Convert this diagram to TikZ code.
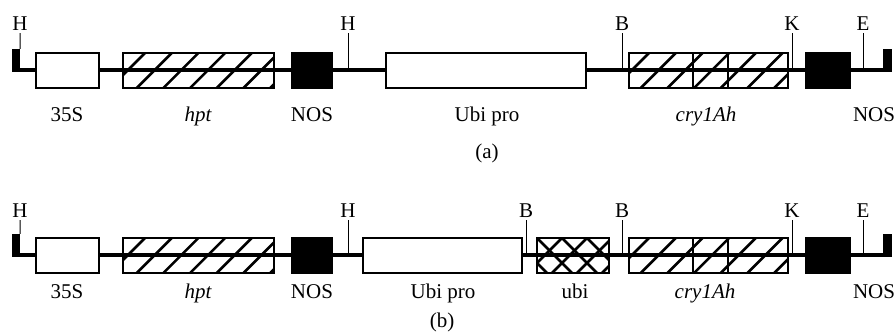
\documentclass[tikz,border=0pt]{standalone}
\usepackage{fontspec}
\setmainfont{Liberation Serif}
\tikzset{
  backbone/.style={line width=3.5pt},
  tickline/.style={line width=1pt},
  wbox/.style={draw, fill=white, line width=1.2pt, inner sep=0pt, minimum height=35pt},
  bbox/.style={draw, fill=black, line width=1.2pt, inner sep=0pt, minimum height=35pt},
  hbox/.style={draw, line width=1.2pt, inner sep=0pt, minimum height=35pt},
  flagbox/.style={fill=black, inner sep=0pt, minimum width=8pt, minimum height=23pt},
  hatchline/.style={line width=2.6pt},
  divline/.style={line width=1.1pt},
  lab/.style={anchor=base, inner sep=0pt, font=\fontsize{21}{25}\selectfont},
}
\newcommand\hatchfill[4]{%
  \begin{scope}
    \clip (#1.south west) rectangle (#1.north east);
    \foreach \k in {-2,...,#4}{%
      \pgfmathsetmacro\xx{#2+26.7*\k}
      \draw[hatchline] (\xx-22,#3+22) -- (\xx+22,#3-22);
    }
  \end{scope}}
\newcommand\crossfill[3]{%
  \begin{scope}
    \clip (#1.south west) rectangle (#1.north east);
    \foreach \k in {-2,...,5}{%
      \pgfmathsetmacro\xx{#2+25*\k}
      \draw[hatchline] (\xx-40,#3-40) -- (\xx+40,#3+40);
      \draw[hatchline] (\xx-40,#3+40) -- (\xx+40,#3-40);
    }
  \end{scope}}
\begin{document}
\begin{tikzpicture}[x=1pt,y=-1pt]
\useasboundingbox (0,0) rectangle (896,333);

% ================= panel (a) =================
\coordinate (La) at (12,70);
\coordinate (Ra) at (892,70);
\draw[backbone] (La) -- (Ra);
\node[flagbox] (FLa) at (16,60.5) {};
\node[flagbox, minimum width=9pt] (FRa) at (887.5,60.5) {};

\node[wbox, minimum width=63pt]  (s35a) at (67.5,70.5) {};
\node[hbox, minimum width=151pt] (hpta) at (198.5,70.5) {};
\node[bbox, minimum width=40pt]  (nos1a) at (312,70.5) {};
\node[wbox, minimum width=200pt] (ubipa) at (486,70.5) {};
\node[hbox, minimum width=159pt] (crya) at (708.5,70.5) {};
\node[bbox, minimum width=44pt]  (nos2a) at (828,70.5) {};

\hatchfill{hpta}{128}{70}{7}
\hatchfill{crya}{632}{70}{7}
\draw[divline] (crya.north west -| 693,0) -- (crya.south west -| 693,0);
\draw[divline] (crya.north west -| 728,0) -- (crya.south west -| 728,0);

\node[lab] (Ha1) at (20,30) {H};
\node[lab] (Ha2) at (348,30) {H};
\node[lab] (Ba1) at (622,30) {B};
\node[lab] (Ka1) at (792,30) {K};
\node[lab] (Ea1) at (863,30) {E};
\draw[tickline] ([yshift=-3pt]Ha1.south) -- (FLa.north east);
\draw[tickline] ([yshift=-3pt]Ha2.south) -- (Ha2.south |- La);
\draw[tickline] ([yshift=-3pt]Ba1.south) -- (Ba1.south |- La);
\draw[tickline] ([yshift=-3pt]Ka1.south) -- (Ka1.south |- La);
\draw[tickline] ([yshift=-3pt]Ea1.south) -- (Ea1.south |- La);

\node[lab] (t35a) at (67,121) {35S};
\node[lab] (thpta) at (198,121) {\itshape hpt};
\node[lab] (tnos1a) at (312,121) {NOS};
\node[lab] (tubipa) at (487,121) {Ubi pro};
\node[lab] (tcrya) at (706,121) {\itshape cry1Ah};
\node[lab] (tnos2a) at (874,121) {NOS};
\node[lab] (capa) at (487,158) {(a)};

% ================= panel (b) =================
\coordinate (Lb) at (12,255);
\coordinate (Rb) at (892,255);
\draw[backbone] (Lb) -- (Rb);
\node[flagbox] (FLb) at (16,245.5) {};
\node[flagbox, minimum width=9pt] (FRb) at (887.5,245.5) {};

\node[wbox, minimum width=63pt]  (s35b) at (67.5,255.5) {};
\node[hbox, minimum width=151pt] (hptb) at (198.5,255.5) {};
\node[bbox, minimum width=40pt]  (nos1b) at (312,255.5) {};
\node[wbox, minimum width=159pt] (ubipb) at (442.5,255.5) {};
\node[hbox, minimum width=72pt]  (ubib) at (573,255.5) {};
\node[hbox, minimum width=159pt] (cryb) at (708.5,255.5) {};
\node[bbox, minimum width=44pt]  (nos2b) at (828,255.5) {};

\hatchfill{hptb}{128}{255}{7}
\hatchfill{cryb}{632}{255}{7}
\crossfill{ubib}{537}{238}
\draw[divline] (cryb.north west -| 693,0) -- (cryb.south west -| 693,0);
\draw[divline] (cryb.north west -| 728,0) -- (cryb.south west -| 728,0);

\node[lab] (Hb1) at (20,217) {H};
\node[lab] (Hb2) at (348,217) {H};
\node[lab] (Bb1) at (526,217) {B};
\node[lab] (Bb2) at (622,217) {B};
\node[lab] (Kb1) at (792,217) {K};
\node[lab] (Eb1) at (863,217) {E};
\draw[tickline] ([yshift=-3pt]Hb1.south) -- (FLb.north east);
\draw[tickline] ([yshift=-3pt]Hb2.south) -- (Hb2.south |- Lb);
\draw[tickline] ([yshift=-3pt]Bb1.south) -- (Bb1.south |- Lb);
\draw[tickline] ([yshift=-3pt]Bb2.south) -- (Bb2.south |- Lb);
\draw[tickline] ([yshift=-3pt]Kb1.south) -- (Kb1.south |- Lb);
\draw[tickline] ([yshift=-3pt]Eb1.south) -- (Eb1.south |- Lb);

\node[lab] (t35b) at (67,298) {35S};
\node[lab] (thptb) at (198,298) {\itshape hpt};
\node[lab] (tnos1b) at (312,298) {NOS};
\node[lab] (tubipb) at (443,298) {Ubi pro};
\node[lab] (tubib) at (575,298) {ubi};
\node[lab] (tcryb) at (705,298) {\itshape cry1Ah};
\node[lab] (tnos2b) at (874,298) {NOS};
\node[lab] (capb) at (442,327) {(b)};
\end{tikzpicture}
\end{document}
